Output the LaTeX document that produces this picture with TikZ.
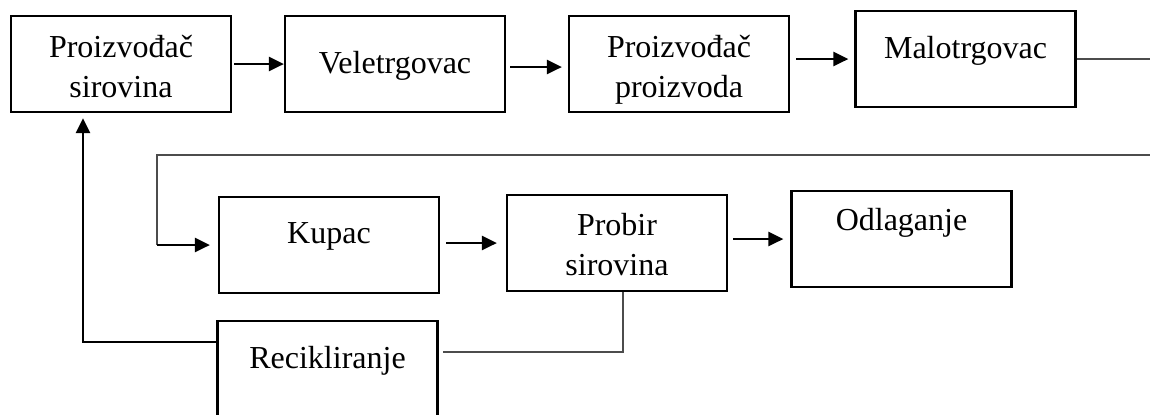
\documentclass[tikz,border=0pt]{standalone}
\usepackage{fontspec}
\setmainfont{Liberation Serif}
\usetikzlibrary{arrows.meta}

\begin{document}
\begin{tikzpicture}[x=0.5pt,y=-0.5pt,
    stage/.style={draw,line width=1.1pt,minimum width=110pt,minimum height=48pt,inner sep=0pt},
    txt/.style={anchor=base,inner sep=0pt,align=center,font=\fontsize{16}{20}\selectfont},
    flow/.style={-{Triangle[length=7.5pt,width=7pt]},line width=1.3pt},
    link/.style={draw=black!70,line width=0.6pt}]

  \useasboundingbox (0,0) rectangle (1150,414);

  % boxes
  \node[stage] (sir)  at (121,64)    {};
  \node[stage] (vel)  at (395,64)    {};
  \node[stage] (pro)  at (679,64)    {};
  \node[stage] (malo) at (965.5,59)  {};
  \node[stage] (kup)  at (329,245)   {};
  \node[stage] (prob) at (617,243)   {};
  \node[stage] (odl)  at (901.5,239) {};
  \node[stage] (rec)  at (327.5,369) {};

  % texts (base = last line)
  \node[txt] (sirT)  at (121,97)   {Proizvođač\\sirovina};
  \node[txt] (velT)  at (395,73)   {Veletrgovac};
  \node[txt] (proT)  at (679,97)   {Proizvođač\\proizvoda};
  \node[txt] (maloT) at (965.5,58) {Malotrgovac};
  \node[txt] (kupT)  at (329,243)  {Kupac};
  \node[txt] (probT) at (617,275)  {Probir\\sirovina};
  \node[txt] (odlT)  at (901.5,230) {Odlaganje};
  \node[txt] (recT)  at (327.5,368) {Recikliranje};

  % turning points
  \coordinate (m1) at (1150,59);
  \coordinate (r1) at (1150,155);
  \coordinate (r2) at (157,155);
  \coordinate (p1) at (623,352);
  \coordinate (q1) at (83,342);

  % connectors
  \draw[flow,shorten <=1pt] (sir.east) -- (vel.west);
  \draw[flow,shorten <=2pt,shorten >=3pt] ([yshift=-1.5pt]vel.east) -- ([yshift=-1.5pt]pro.west);
  \draw[flow,shorten <=3pt,shorten >=3pt] (pro.east |- malo.west) -- (malo.west);
  \draw[link] (malo.east) -- (m1);
  \draw[link] (r1) -- (r2) -- (r2 |- kup.west);
  \draw[flow,shorten >=4pt] (r2 |- kup.west) -- (kup.west);
  \draw[flow,shorten <=3pt,shorten >=4.5pt] (kup.east |- prob.west) -- (prob.west);
  \draw[flow,shorten <=2.5pt,shorten >=3.5pt] (prob.east |- odl.west) -- (odl.west);
  \draw[link,shorten >=2pt] (prob.south -| p1) -- (p1) -- (p1 -| rec.east);
  \draw[flow,shorten >=2.5pt] (rec.west |- q1) -- (q1) -- (q1 |- sir.south);

\end{tikzpicture}
\end{document}
